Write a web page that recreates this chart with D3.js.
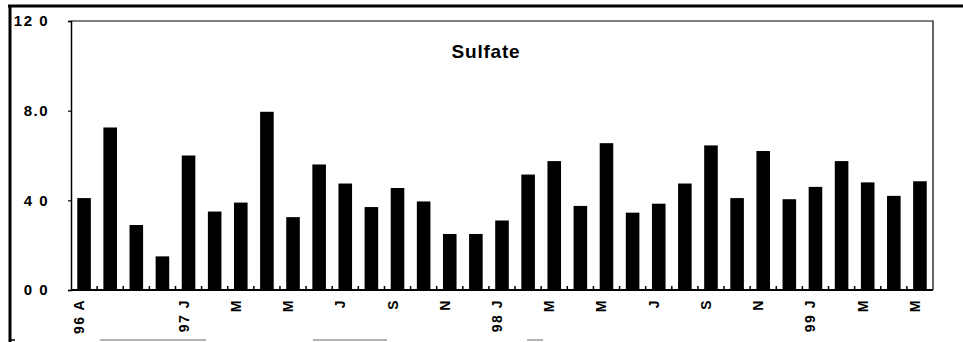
<!DOCTYPE html>
<html>
<head>
<meta charset="utf-8">
<script src="https://cdn.jsdelivr.net/npm/d3@7"></script>
<style>
  html, body { margin: 0; padding: 0; background: #fff; }
  svg { display: block; }
  text { font-family: "Liberation Sans", Arial, Helvetica, sans-serif; font-weight: bold; fill: #000; }
</style>
</head>
<body>
<svg id="chart" width="963" height="342"></svg>
<script>
// Monthly sulfate samples, 1996-1999
const months = ["96 A","","","","97 J","","M","","M","","J","","S","","N","",
                "98 J","","M","","M","","J","","S","","N","","99 J","","M","","M"];
const sulfate = [4.1, 7.25, 2.9, 1.5, 6.0, 3.5, 3.9, 7.95, 3.25, 5.6, 4.75, 3.7, 4.55, 3.95,
                 2.5, 2.5, 3.1, 5.15, 5.75, 3.75, 6.55, 3.45, 3.85, 4.75, 6.45, 4.1, 6.2,
                 4.05, 4.6, 5.75, 4.8, 4.2, 4.85];
const yTicks = [0, 4, 8, 12];
const yTickLabels = ["0 0", "4 0", "8.0", "12 0"];
const title = "Sulfate";

const svg = d3.select("#chart");
const plot = { left: 71, right: 933, top: 21, bottom: 290 };

const idx = d3.range(sulfate.length);
const x = d3.scaleBand()
  .domain(idx)
  .range([plot.left, plot.right])
  .paddingInner(0.48)
  .paddingOuter(0.24);
const y = d3.scaleLinear().domain([0, 12]).range([plot.bottom, plot.top]);

// outer page frame (top and left edges)
svg.append("line").attr("x1", 8).attr("x2", 963).attr("y1", 6).attr("y2", 6)
  .attr("stroke", "#000").attr("stroke-width", 3);
svg.append("line").attr("x1", 10).attr("x2", 10).attr("y1", 5).attr("y2", 342)
  .attr("stroke", "#000").attr("stroke-width", 3);
// faint bottom edge
[[10, 15], [100, 206], [313, 387], [527, 543]].forEach(([a, b], i) => {
  svg.append("line").attr("x1", a).attr("x2", b).attr("y1", 340).attr("y2", 340)
    .attr("stroke", i === 0 ? "#000" : "#9a9a9a").attr("stroke-width", 1.5);
});

// plot frame: top and right
svg.append("path")
  .attr("d", `M${plot.left},${plot.top}H${plot.right}V${plot.bottom}`)
  .attr("fill", "none").attr("stroke", "#000").attr("stroke-width", 1.2);

// bars
svg.append("g").selectAll("rect")
  .data(sulfate)
  .join("rect")
  .attr("x", (d, i) => x(i))
  .attr("width", x.bandwidth())
  .attr("y", d => y(d))
  .attr("height", d => y(0) - y(d))
  .attr("fill", "#000");

// y axis
const yAxis = d3.axisLeft(y)
  .tickValues(yTicks)
  .tickSize(3)
  .tickFormat((d, i) => yTickLabels[i]);
const gy = svg.append("g").attr("transform", `translate(${plot.left},0)`).call(yAxis);
gy.attr("font-size", null).attr("font-family", null);
gy.select(".domain").attr("stroke", "#000").attr("stroke-width", 1.5);
gy.selectAll(".tick line").attr("stroke", "#000").attr("stroke-width", 1.2);
gy.selectAll(".tick text")
  .attr("x", -22)
  .attr("fill", "#000")
  .style("font-size", "15px")
  .style("letter-spacing", "1.5px")
  .style("font-family", "'Liberation Sans', Arial, sans-serif")
  .style("font-weight", "bold");

// baseline with small inward ticks at band boundaries
svg.append("line")
  .attr("x1", plot.left).attr("x2", plot.right)
  .attr("y1", plot.bottom).attr("y2", plot.bottom)
  .attr("stroke", "#000").attr("stroke-width", 2);
const step = x.step();
const boundaries = idx.slice(1).map(i => x(i) - x.paddingInner() * step / 2);
svg.append("g").selectAll("line")
  .data(boundaries)
  .join("line")
  .attr("x1", d => d).attr("x2", d => d)
  .attr("y1", plot.bottom).attr("y2", plot.bottom - 4)
  .attr("stroke", "#000").attr("stroke-width", 1.5);

// rotated month labels
svg.append("g").selectAll("text")
  .data(months)
  .join("text")
  .attr("transform", (d, i) => `translate(${x(i) + x.bandwidth() / 2},299) rotate(-90)`)
  .attr("text-anchor", "end")
  .style("font-size", "14px")
  .style("letter-spacing", "1.5px")
  .text(d => d);

// title
svg.append("text")
  .attr("x", 486).attr("y", 58)
  .attr("text-anchor", "middle")
  .style("font-size", "19px")
  .style("letter-spacing", "0.8px")
  .text(title);
</script>
</body>
</html>
